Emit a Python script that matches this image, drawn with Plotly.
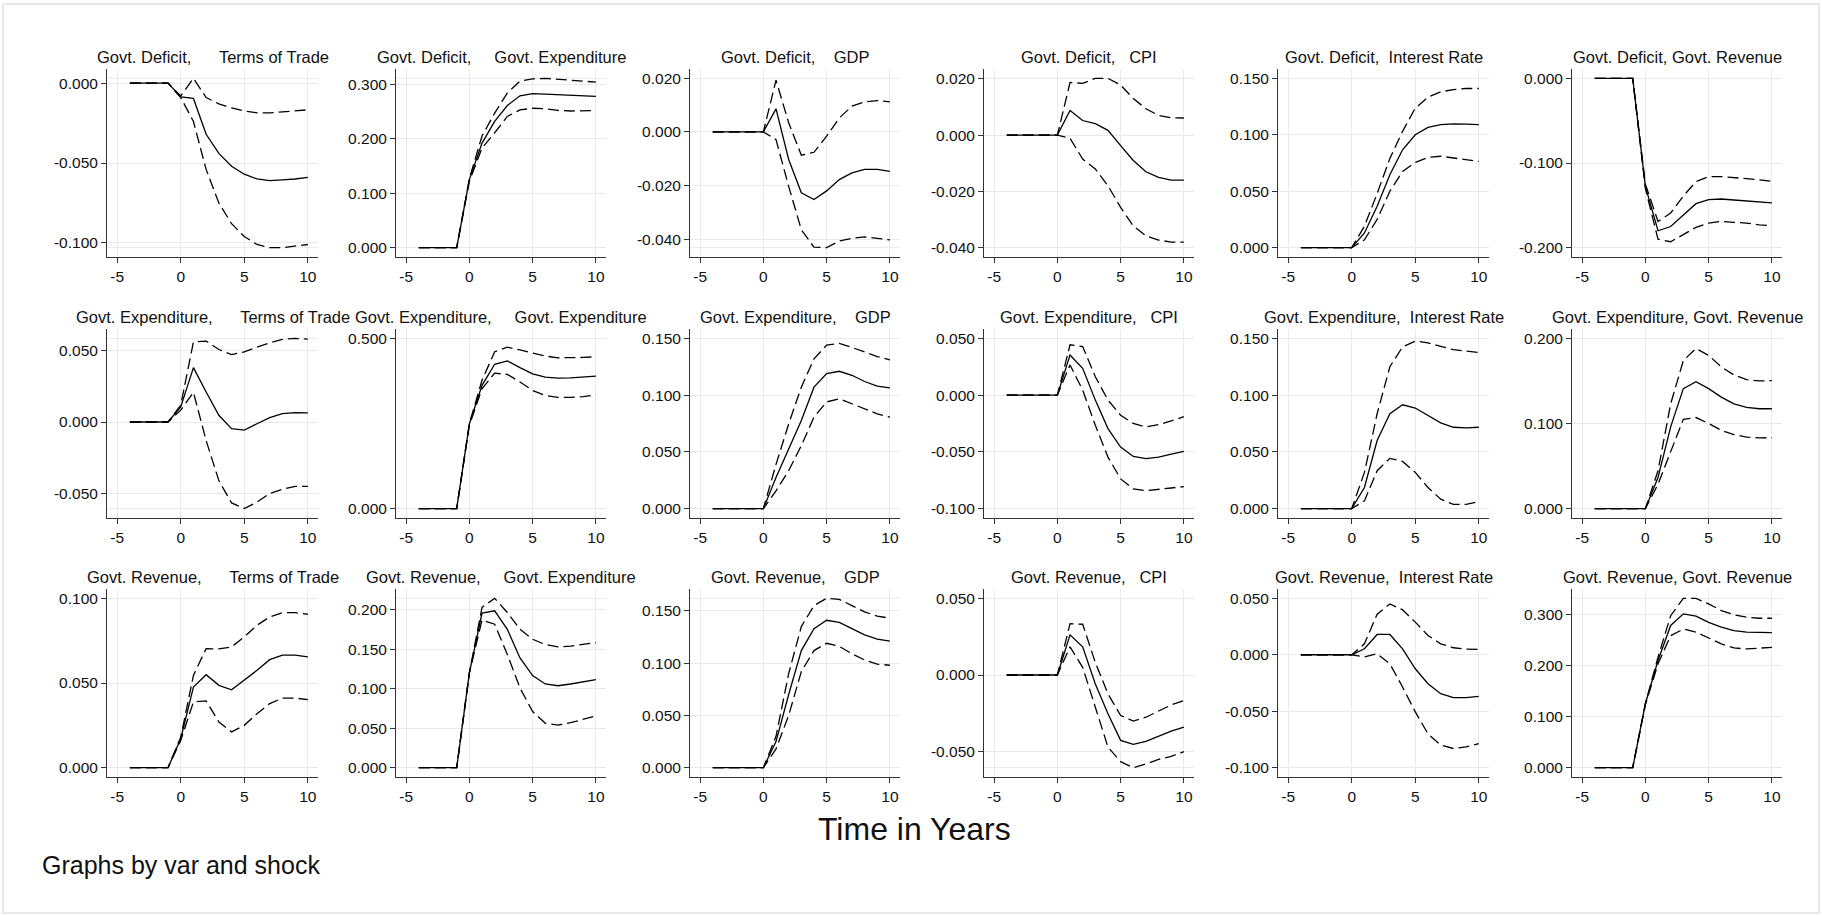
import plotly.graph_objects as go

W, H = 1822, 916

# ---------------- data ----------------
years = list(range(-4, 11))
x_ticks = [-5, 0, 5, 10]

row_labels = ["Govt. Deficit,", "Govt. Expenditure,", "Govt. Revenue,"]
col_labels = ["Terms of Trade", "Govt. Expenditure", "GDP", "CPI", "Interest Rate", "Govt. Revenue"]
title_gaps = [6, 5, 4, 3, 2, 1]

# Row 1: Govt. Deficit
def_tot_irf = [0, 0, 0, 0, -0.0086, -0.0096, -0.032, -0.044, -0.052, -0.057, -0.060, -0.061, -0.0605, -0.060, -0.059]
def_tot_hi = [0, 0, 0, 0, -0.008, 0.003, -0.009, -0.013, -0.0155, -0.0175, -0.0186, -0.0186, -0.018, -0.0174, -0.0167]
def_tot_lo = [0, 0, 0, 0, -0.009, -0.024, -0.054, -0.075, -0.088, -0.096, -0.101, -0.103, -0.103, -0.102, -0.101]
def_tot_ticks = [0.0, -0.05, -0.1]

def_exp_irf = [0, 0, 0, 0, 0.125, 0.192, 0.232, 0.261, 0.279, 0.283, 0.282, 0.281, 0.279, 0.278, 0.278]
def_exp_hi = [0, 0, 0, 0, 0.127, 0.205, 0.247, 0.284, 0.306, 0.310, 0.311, 0.309, 0.307, 0.306, 0.304]
def_exp_lo = [0, 0, 0, 0, 0.122, 0.183, 0.211, 0.241, 0.253, 0.256, 0.255, 0.252, 0.251, 0.251, 0.252]
def_exp_ticks = [0.0, 0.1, 0.2, 0.3]

def_gdp_irf = [0, 0, 0, 0, 0, 0.0086, -0.0103, -0.0227, -0.0252, -0.022, -0.0178, -0.0153, -0.014, -0.014, -0.0147]
def_gdp_hi = [0, 0, 0, 0, 0, 0.0193, 0.0034, -0.0087, -0.0076, -0.0016, 0.0052, 0.0096, 0.0112, 0.0117, 0.0112]
def_gdp_lo = [0, 0, 0, 0, 0, -0.0029, -0.0203, -0.0365, -0.043, -0.0432, -0.0407, -0.0397, -0.0392, -0.0397, -0.0403]
def_gdp_ticks = [0.02, 0.0, -0.02, -0.04]

def_cpi_irf = [0, 0, 0, 0, 0, 0.0088, 0.0052, 0.0041, 0.0017, -0.0037, -0.009, -0.013, -0.015, -0.016, -0.016]
def_cpi_hi = [0, 0, 0, 0, 0, 0.0187, 0.0184, 0.0202, 0.0202, 0.0178, 0.013, 0.0094, 0.007, 0.0062, 0.0061]
def_cpi_lo = [0, 0, 0, 0, 0, -0.0011, -0.0085, -0.012, -0.018, -0.0257, -0.0323, -0.0358, -0.0373, -0.038, -0.038]
def_cpi_ticks = [0.02, 0.0, -0.02, -0.04]

def_int_irf = [0, 0, 0, 0, 0, 0.013, 0.0366, 0.0646, 0.0867, 0.100, 0.1065, 0.109, 0.1097, 0.1094, 0.109]
def_int_hi = [0, 0, 0, 0, 0, 0.019, 0.048, 0.079, 0.103, 0.1236, 0.1333, 0.138, 0.140, 0.141, 0.141]
def_int_lo = [0, 0, 0, 0, 0, 0.007, 0.025, 0.050, 0.0675, 0.0755, 0.080, 0.081, 0.0793, 0.0779, 0.0764]
def_int_ticks = [0.0, 0.05, 0.1, 0.15]

def_rev_irf = [0, 0, 0, 0, -0.1276, -0.180, -0.175, -0.161, -0.148, -0.1433, -0.1425, -0.1437, -0.145, -0.1465, -0.147]
def_rev_hi = [0, 0, 0, 0, -0.125, -0.169, -0.159, -0.139, -0.122, -0.116, -0.116, -0.117, -0.1185, -0.120, -0.1217]
def_rev_lo = [0, 0, 0, 0, -0.130, -0.190, -0.193, -0.185, -0.176, -0.171, -0.169, -0.170, -0.171, -0.173, -0.174]
def_rev_ticks = [0.0, -0.1, -0.2]

# Row 2: Govt. Expenditure
exp_tot_irf = [0, 0, 0, 0, 0.0106, 0.038, 0.021, 0.0047, -0.0047, -0.0057, -0.0012, 0.003, 0.0059, 0.0066, 0.0064]
exp_tot_hi = [0, 0, 0, 0, 0.0118, 0.056, 0.0566, 0.0507, 0.0472, 0.049, 0.0524, 0.0554, 0.0578, 0.0585, 0.058]
exp_tot_lo = [0, 0, 0, 0, 0.0083, 0.0208, -0.013, -0.041, -0.0566, -0.0606, -0.056, -0.050, -0.047, -0.045, -0.045]
exp_tot_ticks = [0.05, 0.0, -0.05]

exp_exp_irf = [0, 0, 0, 0, 0.2485, 0.362, 0.424, 0.434, 0.414, 0.396, 0.386, 0.383, 0.384, 0.386, 0.389]
exp_exp_hi = [0, 0, 0, 0, 0.25, 0.377, 0.461, 0.474, 0.466, 0.456, 0.448, 0.443, 0.443, 0.444, 0.446]
exp_exp_lo = [0, 0, 0, 0, 0.245, 0.352, 0.398, 0.394, 0.372, 0.347, 0.332, 0.327, 0.327, 0.329, 0.334]
exp_exp_ticks = [0.0, 0.5]

exp_gdp_irf = [0, 0, 0, 0, 0, 0.0275, 0.0525, 0.0777, 0.107, 0.119, 0.121, 0.1175, 0.112, 0.108, 0.1063]
exp_gdp_hi = [0, 0, 0, 0, 0, 0.039, 0.0747, 0.107, 0.132, 0.144, 0.1456, 0.142, 0.138, 0.134, 0.131]
exp_gdp_lo = [0, 0, 0, 0, 0, 0.0157, 0.0334, 0.0555, 0.0806, 0.094, 0.0968, 0.0924, 0.088, 0.0835, 0.0806]
exp_gdp_ticks = [0.0, 0.05, 0.1, 0.15]

exp_cpi_irf = [0, 0, 0, 0, 0, 0.0354, 0.0236, -0.0044, -0.0295, -0.0458, -0.054, -0.056, -0.0546, -0.052, -0.0496]
exp_cpi_hi = [0, 0, 0, 0, 0, 0.0443, 0.0428, 0.0162, -0.0044, -0.0177, -0.025, -0.028, -0.026, -0.0227, -0.019]
exp_cpi_lo = [0, 0, 0, 0, 0, 0.0266, 0.0044, -0.0266, -0.0546, -0.0738, -0.0827, -0.0842, -0.0833, -0.0818, -0.0806]
exp_cpi_ticks = [0.05, 0.0, -0.05, -0.1]

exp_int_irf = [0, 0, 0, 0, 0, 0.0186, 0.060, 0.0836, 0.0915, 0.0886, 0.082, 0.0756, 0.0717, 0.0712, 0.0717]
exp_int_hi = [0, 0, 0, 0, 0, 0.0319, 0.0836, 0.125, 0.1425, 0.1476, 0.146, 0.143, 0.140, 0.1388, 0.1376]
exp_int_lo = [0, 0, 0, 0, 0, 0.0068, 0.0334, 0.0443, 0.0416, 0.0319, 0.0186, 0.0083, 0.0038, 0.0038, 0.0062]
exp_int_ticks = [0.0, 0.05, 0.1, 0.15]

exp_rev_irf = [0, 0, 0, 0, 0, 0.0366, 0.096, 0.141, 0.149, 0.141, 0.131, 0.123, 0.119, 0.1173, 0.1173]
exp_rev_hi = [0, 0, 0, 0, 0, 0.0445, 0.123, 0.174, 0.188, 0.180, 0.1665, 0.157, 0.1516, 0.150, 0.1504]
exp_rev_lo = [0, 0, 0, 0, 0, 0.0287, 0.068, 0.105, 0.107, 0.1, 0.092, 0.087, 0.084, 0.083, 0.0835]
exp_rev_ticks = [0.0, 0.1, 0.2]

# Row 3: Govt. Revenue
rev_tot_irf = [0, 0, 0, 0, 0.0171, 0.0476, 0.0549, 0.0486, 0.046, 0.0516, 0.0575, 0.0638, 0.0665, 0.0665, 0.0654]
rev_tot_hi = [0, 0, 0, 0, 0.018, 0.0545, 0.0703, 0.0701, 0.0713, 0.0772, 0.0841, 0.089, 0.0915, 0.0915, 0.0906]
rev_tot_lo = [0, 0, 0, 0, 0.0161, 0.0388, 0.0394, 0.027, 0.0211, 0.025, 0.0319, 0.0378, 0.0411, 0.0411, 0.0402]
rev_tot_ticks = [0.0, 0.05, 0.1]

rev_exp_irf = [0, 0, 0, 0, 0.12, 0.1957, 0.1987, 0.1753, 0.139, 0.1166, 0.106, 0.1038, 0.106, 0.1085, 0.1115]
rev_exp_hi = [0, 0, 0, 0, 0.12, 0.203, 0.2145, 0.1966, 0.1753, 0.1626, 0.156, 0.153, 0.154, 0.156, 0.1583]
rev_exp_lo = [0, 0, 0, 0, 0.12, 0.187, 0.1817, 0.1434, 0.1009, 0.0711, 0.0562, 0.054, 0.057, 0.0613, 0.0655]
rev_exp_ticks = [0.0, 0.05, 0.1, 0.15, 0.2]

rev_gdp_irf = [0, 0, 0, 0, 0, 0.025, 0.07, 0.112, 0.133, 0.141, 0.139, 0.133, 0.127, 0.123, 0.121]
rev_gdp_hi = [0, 0, 0, 0, 0, 0.03, 0.09, 0.135, 0.155, 0.162, 0.161, 0.155, 0.149, 0.145, 0.143]
rev_gdp_lo = [0, 0, 0, 0, 0, 0.018, 0.05, 0.092, 0.112, 0.119, 0.116, 0.109, 0.103, 0.099, 0.098]
rev_gdp_ticks = [0.0, 0.05, 0.1, 0.15]

rev_cpi_irf = [0, 0, 0, 0, 0, 0.0262, 0.0184, -0.0058, -0.0253, -0.0426, -0.0452, -0.0433, -0.040, -0.0366, -0.034]
rev_cpi_hi = [0, 0, 0, 0, 0, 0.0335, 0.0331, 0.0082, -0.0123, -0.0264, -0.030, -0.0275, -0.0236, -0.0195, -0.0167]
rev_cpi_lo = [0, 0, 0, 0, 0, 0.0184, 0.005, -0.021, -0.047, -0.0565, -0.0604, -0.058, -0.055, -0.053, -0.050]
rev_cpi_ticks = [0.05, 0.0, -0.05]

rev_int_irf = [0, 0, 0, 0, 0, 0.0053, 0.018, 0.018, 0.0053, -0.0124, -0.0256, -0.0345, -0.038, -0.038, -0.0368]
rev_int_hi = [0, 0, 0, 0, 0, 0.0097, 0.036, 0.045, 0.0398, 0.0289, 0.0171, 0.0097, 0.0062, 0.005, 0.0047]
rev_int_lo = [0, 0, 0, 0, 0, -0.002, 0.0009, -0.008, -0.0286, -0.0506, -0.070, -0.080, -0.083, -0.0816, -0.0786]
rev_int_ticks = [0.05, 0.0, -0.05, -0.1]

rev_rev_irf = [0, 0, 0, 0, 0.125, 0.2095, 0.278, 0.3006, 0.296, 0.284, 0.2746, 0.268, 0.265, 0.264, 0.264]
rev_rev_hi = [0, 0, 0, 0, 0.125, 0.216, 0.297, 0.331, 0.331, 0.320, 0.307, 0.299, 0.294, 0.292, 0.292]
rev_rev_lo = [0, 0, 0, 0, 0.123, 0.203, 0.258, 0.271, 0.265, 0.254, 0.242, 0.234, 0.232, 0.2336, 0.235]
rev_rev_ticks = [0.0, 0.1, 0.2, 0.3]

panels = [
    [(def_tot_irf, def_tot_lo, def_tot_hi, def_tot_ticks),
     (def_exp_irf, def_exp_lo, def_exp_hi, def_exp_ticks),
     (def_gdp_irf, def_gdp_lo, def_gdp_hi, def_gdp_ticks),
     (def_cpi_irf, def_cpi_lo, def_cpi_hi, def_cpi_ticks),
     (def_int_irf, def_int_lo, def_int_hi, def_int_ticks),
     (def_rev_irf, def_rev_lo, def_rev_hi, def_rev_ticks)],
    [(exp_tot_irf, exp_tot_lo, exp_tot_hi, exp_tot_ticks),
     (exp_exp_irf, exp_exp_lo, exp_exp_hi, exp_exp_ticks),
     (exp_gdp_irf, exp_gdp_lo, exp_gdp_hi, exp_gdp_ticks),
     (exp_cpi_irf, exp_cpi_lo, exp_cpi_hi, exp_cpi_ticks),
     (exp_int_irf, exp_int_lo, exp_int_hi, exp_int_ticks),
     (exp_rev_irf, exp_rev_lo, exp_rev_hi, exp_rev_ticks)],
    [(rev_tot_irf, rev_tot_lo, rev_tot_hi, rev_tot_ticks),
     (rev_exp_irf, rev_exp_lo, rev_exp_hi, rev_exp_ticks),
     (rev_gdp_irf, rev_gdp_lo, rev_gdp_hi, rev_gdp_ticks),
     (rev_cpi_irf, rev_cpi_lo, rev_cpi_hi, rev_cpi_ticks),
     (rev_int_irf, rev_int_lo, rev_int_hi, rev_int_ticks),
     (rev_rev_irf, rev_rev_lo, rev_rev_hi, rev_rev_ticks)],
]

# ---------------- layout (pixel boxes of plot regions) ----------------
col_px = [(107, 318), (396, 606), (690, 900), (984, 1194), (1278, 1489), (1572, 1782)]
row_px = [(69, 257), (329, 518), (589, 777)]
x_range = [-5.8, 10.8]

FONT = "Liberation Sans, Arial, Helvetica, sans-serif"
AX_COLOR = "#333333"
GRID_COLOR = "#e9e9e9"
LINE_W = 1.3

fig = go.Figure()
layout = dict(
    width=W, height=H, autosize=False,
    margin=dict(l=0, r=0, t=0, b=0),
    paper_bgcolor="white", plot_bgcolor="white",
    showlegend=False,
    font=dict(family=FONT, color="#111111"),
)
annotations = []
shapes = []

k = 0
for r, row in enumerate(panels):
    for c, (irf, lo, hi, yt) in enumerate(row):
        k += 1
        xa = "x" if k == 1 else f"x{k}"
        ya = "y" if k == 1 else f"y{k}"
        for series, dash in ((hi, "11px,5px"), (lo, "11px,5px"), (irf, "solid")):
            fig.add_trace(go.Scatter(
                x=years, y=series, mode="lines", xaxis=xa, yaxis=ya,
                line=dict(color="black", width=LINE_W, dash=dash),
                hoverinfo="skip",
            ))
        vals = list(irf) + list(lo) + list(hi) + list(yt)
        vmin, vmax = min(vals), max(vals)
        pad = 0.055 * (vmax - vmin)
        x0, x1 = col_px[c]
        y0, y1 = row_px[r]
        common = dict(
            showline=True, linecolor=AX_COLOR, linewidth=1,
            ticks="outside", ticklen=5, tickwidth=1, tickcolor=AX_COLOR,
            showgrid=True, gridcolor=GRID_COLOR, gridwidth=1,
            zeroline=False, tickfont=dict(family=FONT, size=15.5, color="#111111"),
        )
        layout["xaxis" if k == 1 else f"xaxis{k}"] = dict(
            domain=[x0 / W, x1 / W], anchor=ya, range=x_range,
            tickmode="array", tickvals=x_ticks, ticktext=[str(v) for v in x_ticks],
            **common,
        )
        layout["yaxis" if k == 1 else f"yaxis{k}"] = dict(
            domain=[1 - y1 / H, 1 - y0 / H], anchor=xa,
            range=[vmin - pad, vmax + pad],
            tickmode="array", tickvals=yt, ticktext=[f"{v:.3f}" for v in yt],
            **common,
        )
        # faint grid lines at the extremes of the axis scale
        for yv in (vmin, vmax):
            if min(abs(yv - t) for t in yt) > 1e-9:
                shapes.append(dict(
                    type="line", xref=f"{xa} domain", yref=ya,
                    x0=0, x1=1, y0=yv, y1=yv, layer="below",
                    line=dict(color=GRID_COLOR, width=1),
                ))
        title = row_labels[r] + "\u00a0" * title_gaps[c] + col_labels[c]
        annotations.append(dict(
            text=title, xref="paper", yref="paper",
            x=(x0 + x1) / 2 / W, y=1 - (y0 - 12) / H,
            xanchor="center", yanchor="middle", showarrow=False,
            font=dict(family=FONT, size=16.5, color="#111111"),
        ))

annotations.append(dict(
    text="Time in Years", xref="paper", yref="paper",
    x=914 / W, y=1 - 829 / H, xanchor="center", yanchor="middle",
    showarrow=False, font=dict(family=FONT, size=32, color="#111111"),
))
annotations.append(dict(
    text="Graphs by var and shock", xref="paper", yref="paper",
    x=40 / W, y=1 - 865 / H, xanchor="left", yanchor="middle",
    showarrow=False, font=dict(family=FONT, size=25, color="#111111"),
))
shapes.append(dict(
    type="rect", xref="paper", yref="paper",
    x0=3 / W, x1=1819 / W, y0=1 - 913 / H, y1=1 - 4 / H,
    line=dict(color="#e8e8e8", width=2), fillcolor="rgba(0,0,0,0)", layer="below",
))
layout["annotations"] = annotations
layout["shapes"] = shapes

fig.update_layout(**layout)
fig.write_html("out.html", config={"displayModeBar": False},
               post_script="document.body.style.margin='0';")
